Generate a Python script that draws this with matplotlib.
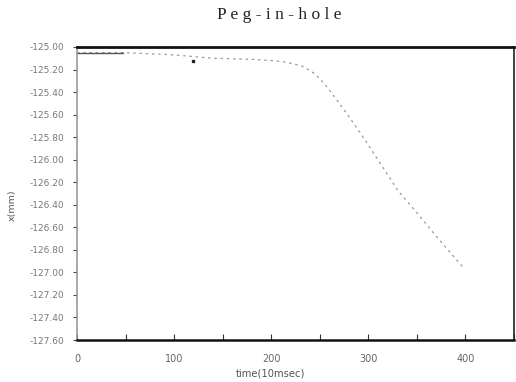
import matplotlib
matplotlib.use('Agg')
import matplotlib.pyplot as plt
from matplotlib.ticker import MultipleLocator, FixedLocator

# Peg-in-hole trajectory
time_10ms = [0, 20, 47, 75, 100, 140, 181, 200, 212, 223, 232, 242, 250, 258,
             271, 281, 297, 312, 331, 349, 370, 398]
x_mm = [-125.05, -125.05, -125.05, -125.06, -125.07, -125.10, -125.11, -125.12,
        -125.13, -125.15, -125.17, -125.22, -125.28, -125.36, -125.51, -125.63,
        -125.83, -126.03, -126.28, -126.46, -126.68, -126.96]
stray_t = [119]
stray_x = [-125.12]

y_ticks = [-125.0 - 0.2 * i for i in range(14)]
y_labels = ["%.2f" % v for v in y_ticks]

fig = plt.figure(figsize=(5.16, 3.82), dpi=100)
ax = fig.add_axes([77 / 516, 1 - 340 / 382, (514 - 77) / 516, (340 - 47) / 382])

ax.plot(time_10ms, x_mm, color="#9a9a9a", linewidth=0.9, linestyle=(0, (2, 3)))
ax.plot(time_10ms[:3], x_mm[:3], color="#555555", linewidth=1.0)
ax.plot(stray_t, stray_x, "s", color="#222222", markersize=1.8)

ax.set_xlim(0, 450)
ax.set_ylim(-127.6, -125.0)
ax.xaxis.set_major_locator(FixedLocator([0, 100, 200, 300, 400]))
ax.xaxis.set_minor_locator(MultipleLocator(50))
ax.yaxis.set_major_locator(FixedLocator(y_ticks))
ax.set_yticklabels(y_labels)

ax.tick_params(axis="x", which="both", direction="in", length=4, width=0.8,
               pad=10, labelsize=7, labelcolor="#666666", colors="#333333")
ax.tick_params(axis="y", direction="out", length=3, width=0.8, pad=6,
               labelsize=6.5, labelcolor="#777777", colors="#444444")

ax.spines["top"].set_linewidth(2.0)
ax.spines["top"].set_color("#111111")
ax.spines["bottom"].set_linewidth(1.8)
ax.spines["bottom"].set_color("#111111")
ax.spines["right"].set_linewidth(1.2)
ax.spines["right"].set_color("#222222")
ax.spines["left"].set_linewidth(1.2)
ax.spines["left"].set_color("#999999")

fig.text(279 / 516, 1 - 15 / 382, "P e g - i n - h o l e", ha="center", va="center",
         family="Liberation Serif", fontsize=12.5, color="#222222")
fig.text(270 / 516, 1 - 373 / 382, "time(10msec)", ha="center", va="center",
         fontsize=7.2, color="#555555")
fig.text(12 / 516, 1 - 205 / 382, "x(mm)", ha="center", va="center", rotation=90,
         fontsize=6.8, color="#555555")

fig.savefig("out.png", dpi=100, facecolor="white")
